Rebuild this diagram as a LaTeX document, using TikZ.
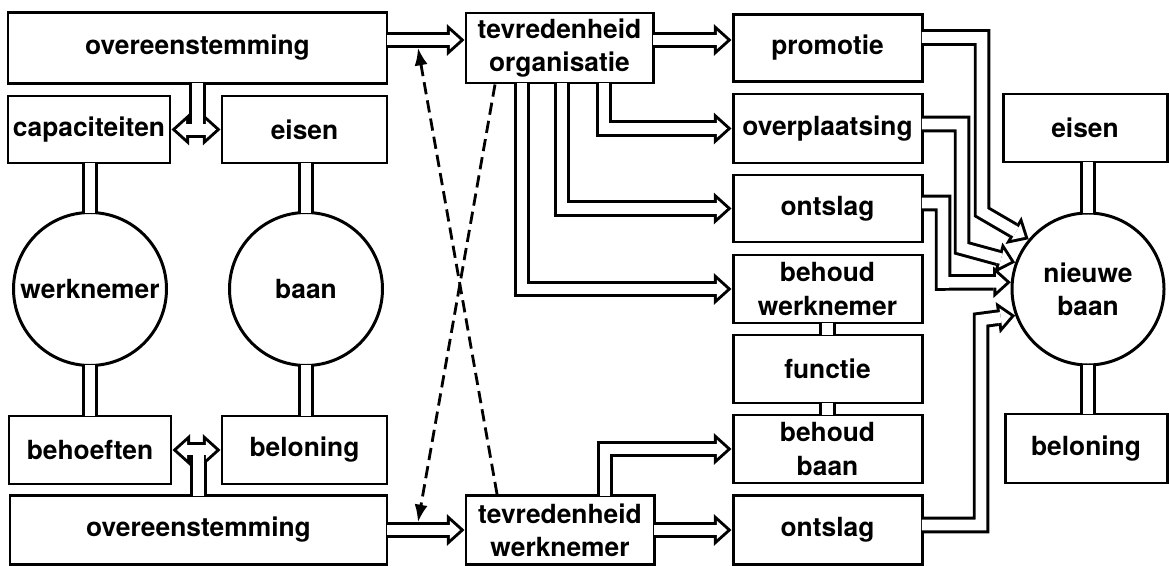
\documentclass[tikz,border=0pt]{standalone}
\usepackage{fontspec}
\setmainfont{TeX Gyre Heros}
\usetikzlibrary{arrows.meta}

\tikzset{
    blok/.style={draw, line width=1.7pt, inner sep=0pt, align=center, minimum height=1.36cm},
    bol/.style={draw, circle, line width=1.7pt, inner sep=0pt, align=center, minimum size=3.06cm},
    hals/.style={double, double distance=6pt, line width=1.7pt, shorten <=-0.9pt, shorten >=-0.9pt},
    kopzwart/.tip={Triangle[length=10pt, width=18pt, line width=0pt]},
    kopwit/.tip={Triangle[length=5.76pt, width=10.4pt, line width=0pt]},
    pijl/.style={draw=white, line width=6pt, shorten <=-0.9pt, shorten >=2.54pt, arrows={-kopwit},
        preaction={draw=black, line width=9.4pt, shorten >=0pt, arrows={-kopzwart}}},
    tweepijl/.style={draw=white, line width=6pt, shorten <=2.54pt, shorten >=2.54pt, arrows={kopwit-kopwit},
        preaction={draw=black, line width=9.4pt, shorten <=0pt, shorten >=0pt, arrows={kopzwart-kopzwart}}},
    stip/.style={line width=1.6pt, dash pattern=on 7pt off 3.5pt, arrows={-Latex[length=10pt, width=7.5pt]}}
}

\begin{document}
\begin{tikzpicture}[font=\bfseries\fontsize{15}{19}\selectfont]
        \useasboundingbox (0,0) rectangle (23.38,-11.32);

        \node[blok, minimum width=7.58cm, minimum height=1.42cm] (ov1) at (3.95,-0.96) {overeenstemming};
        \node[blok, minimum width=3.24cm, minimum height=1.34cm] (cap) at (1.78,-2.59) {capaciteiten};
        \node[blok, minimum width=3.30cm, minimum height=1.34cm] (eis) at (6.09,-2.59) {eisen};
        \node[bol] (wn) at (1.80,-5.78) {werknemer};
        \node[bol] (baan) at (6.12,-5.78) {baan};
        \node[blok, minimum width=3.24cm] (beh) at (1.80,-9.0) {behoeften};
        \node[blok, minimum width=3.30cm] (bel) at (6.09,-9.0) {beloning};
        \node[blok, minimum width=7.54cm, minimum height=1.38cm] (ov2) at (3.97,-10.6) {overeenstemming};

        \node[blok, minimum width=3.74cm, minimum height=1.40cm] (tevorg) at (11.19,-0.96) {tevredenheid\\organisatie};
        \node[blok, minimum width=3.76cm, minimum height=1.38cm] (tevwn) at (11.2,-10.6) {tevredenheid\\werknemer};

        \node[blok, minimum width=3.78cm, minimum height=1.34cm] (promotie) at (16.55,-0.96) {promotie};
        \node[blok, minimum width=3.78cm, minimum height=1.38cm] (overpl) at (16.55,-2.57) {overplaatsing};
        \node[blok, minimum width=3.78cm, minimum height=1.34cm] (ontslag1) at (16.55,-4.17) {ontslag};
        \node[blok, minimum width=3.78cm] (bw) at (16.55,-5.78) {behoud\\werknemer};
        \node[blok, minimum width=3.78cm] (functie) at (16.55,-7.38) {functie};
        \node[blok, minimum width=3.78cm] (bb) at (16.55,-8.98) {behoud\\baan};
        \node[blok, minimum width=3.78cm, minimum height=1.38cm] (ontslag2) at (16.55,-10.6) {ontslag};

        \node[blok, minimum width=3.28cm] (eis2) at (21.70,-2.56) {eisen};
        \node[bol, minimum size=3.04cm] (nb) at (21.76,-5.78) {nieuwe\\baan};
        \node[blok, minimum width=3.24cm, minimum height=1.38cm] (bel2) at (21.72,-8.97) {beloning};

        \draw[hals] (wn.north |- cap.south) -- (wn.north);
        \draw[hals] (baan.north |- eis.south) -- (baan.north);
        \draw[hals] (wn.south) -- (wn.south |- beh.north);
        \draw[hals] (baan.south) -- (baan.south |- bel.north);
        \draw[hals] (bw.south) -- (functie.north);
        \draw[hals] (functie.south) -- (bb.north);
        \draw[hals] (nb.north |- eis2.south) -- (nb.north);
        \draw[hals] (nb.south) -- (nb.south |- bel2.north);

        \draw[tweepijl] ([yshift=0.9pt]ov1.south) -- (ov1.south |- cap.east) (cap.east) -- (eis.west);
        \draw[tweepijl] ([yshift=-0.9pt]ov2.north) -- (ov2.north |- beh.east) (beh.east) -- (bel.west);

        \draw[pijl] ([yshift=0.16cm]ov1.east) -- ([yshift=0.16cm]tevorg.west);
        \draw[pijl] ([yshift=0.16cm]tevorg.east) -- ([yshift=0.16cm]promotie.west);
        \draw[pijl] ([xshift=0.89cm]tevorg.south) |- (overpl.west);
        \draw[pijl] ([xshift=0.05cm]tevorg.south) |- (ontslag1.west);
        \draw[pijl] ([xshift=-0.75cm]tevorg.south) |- (bw.west);

        \draw[pijl] (ov2.east) -- (tevwn.west);
        \draw[pijl] (tevwn.east) -- (ontslag2.west);
        \draw[pijl] ([xshift=0.9cm]tevwn.north) |- (bb.west);

        \draw[pijl] ([yshift=0.21cm]promotie.east) -| (19.64,-4.24) -- (nb.140);
        \draw[pijl] ([yshift=0.09cm]overpl.east) -| (19.24,-4.96) -- (nb.160);
        \draw[pijl] ([yshift=0.11cm]ontslag1.east) -| (18.86,-5.65) -- (nb.175);
        \draw[pijl] ([yshift=0.1cm]ontslag2.east) -| (19.62,-6.40) -- (nb.200);

        \coordinate (kb) at (8.36,-0.955);
        \coordinate (ko) at (8.36,-10.445);
        \draw[stip] ([xshift=-1.29cm]tevorg.south) -- (ko);
        \draw[stip] ([xshift=-1.26cm]tevwn.north) -- (kb);
\end{tikzpicture}
\end{document}
